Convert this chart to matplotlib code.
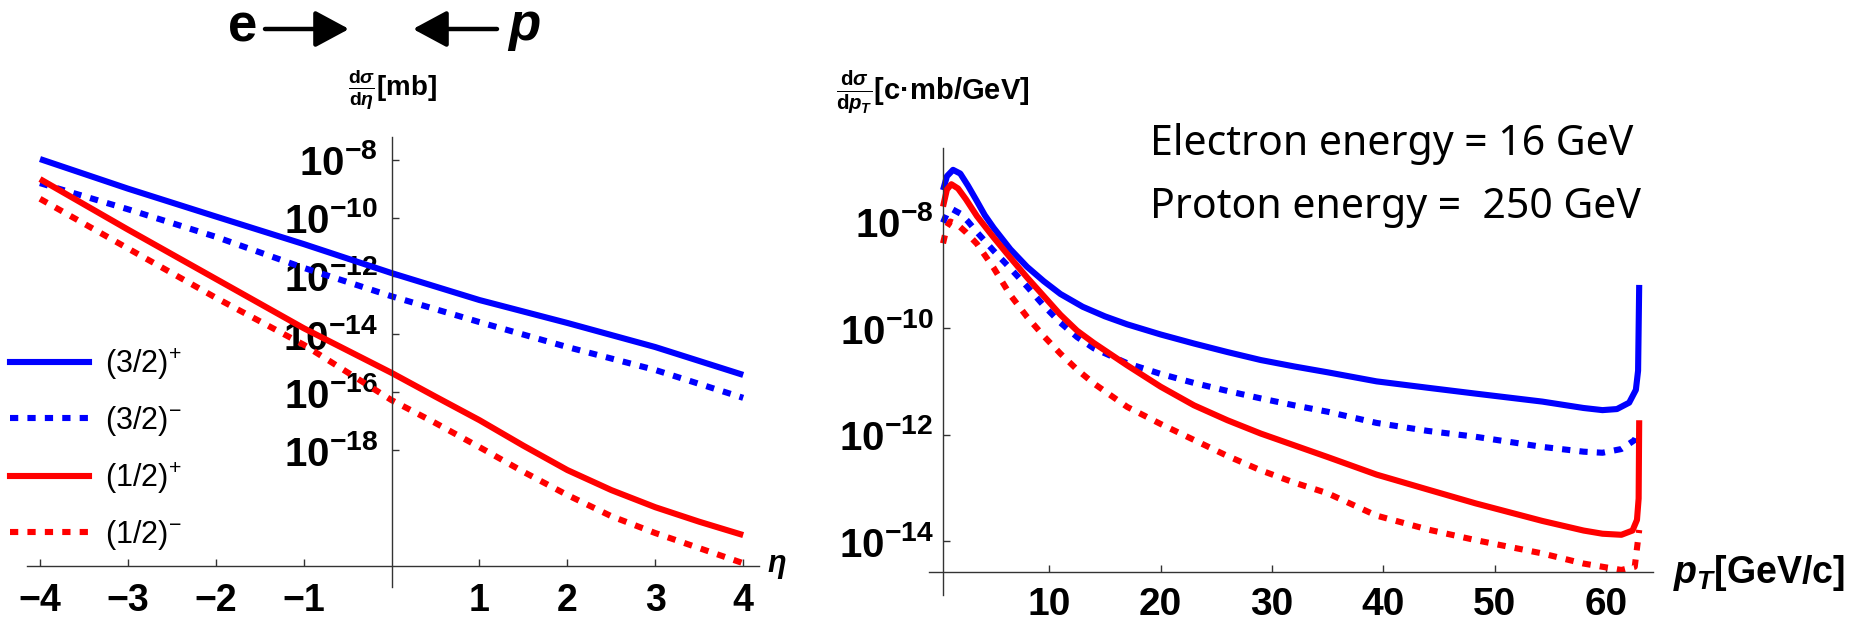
import numpy as np
import matplotlib
matplotlib.use("Agg")
import matplotlib.pyplot as plt
from matplotlib.lines import Line2D
from matplotlib.patches import FancyArrowPatch

plt.rcParams["font.family"] = ["Liberation Sans", "DejaVu Sans"]
plt.rcParams["mathtext.fontset"] = "custom"
plt.rcParams["mathtext.rm"] = "Liberation Sans"
plt.rcParams["mathtext.it"] = "Liberation Sans:italic:bold"
plt.rcParams["mathtext.bf"] = "Liberation Sans:bold"

# ---- left panel: d sigma / d eta (log10 values) ----
eta = [-4, -3, -2, -1, 0, 1, 2, 3, 4]
eta_32p = [-7.97, -8.99, -9.95, -10.9, -11.9, -12.83, -13.62, -14.45, -15.41]
eta_32m = [-8.8, -9.7, -10.65, -11.72, -12.7, -13.59, -14.45, -15.24, -16.2]
eta_red = [-4, -3, -2, -1, 0, 0.5, 1, 1.5, 2, 2.5, 3, 3.5, 4]
eta_12p = [-8.66, -10.4, -12.1, -13.8, -15.34, -16.16, -16.97, -17.85, -18.69,
           -19.38, -19.97, -20.47, -20.93]
eta_12m = [-9.34, -11.05, -12.75, -14.37, -16.28, -17.07, -17.9, -18.75, -19.55,
           -20.28, -20.86, -21.38, -21.9]

# ---- right panel: d sigma / d pT (log10 values) ----
pt_32p = [0.45, 0.8, 1.35, 2.0, 2.7, 3.5, 4.2, 5.0, 6.5, 8.0, 9.5, 11, 13, 15, 17,
          20, 23, 26, 29, 32, 35, 39.4, 44, 48.3, 54.3, 58, 59.7, 61.0, 62.1, 62.7,
          62.9, 63.0]
pt_32p_y = [-7.41, -7.15, -7.03, -7.1, -7.33, -7.62, -7.88, -8.12, -8.52, -8.85,
            -9.12, -9.36, -9.6, -9.78, -9.93, -10.12, -10.29, -10.45, -10.6, -10.72,
            -10.83, -11.0, -11.12, -11.23, -11.38, -11.5, -11.54, -11.52, -11.4,
            -11.16, -10.8, -9.19]
pt_32m = [0.45, 0.8, 1.3, 2.0, 2.7, 3.5, 5.0, 6.5, 8, 9.5, 11, 12.5, 14, 17, 20, 23,
          26, 29, 32, 35, 39.4, 44, 48.3, 54.3, 58, 59.7, 61.4, 62.6, 62.9]
pt_32m_y = [-8.02, -7.85, -7.77, -7.85, -8.0, -8.2, -8.55, -8.88, -9.22, -9.58,
            -9.9, -10.17, -10.38, -10.66, -10.86, -11.03, -11.18, -11.32, -11.45,
            -11.57, -11.78, -11.93, -12.04, -12.23, -12.32, -12.34, -12.27, -12.1,
            -11.95]
pt_12p = [0.45, 0.8, 1.2, 1.8, 2.5, 3.5, 5.0, 6.5, 8, 9.5, 11, 12.5, 14, 17, 20, 23,
          26, 29, 32, 35, 39.4, 44, 48.3, 54.3, 58, 59.7, 61.4, 62.4, 62.8, 62.95,
          63.0]
pt_12p_y = [-7.72, -7.4, -7.3, -7.38, -7.58, -7.9, -8.3, -8.68, -9.05, -9.4, -9.75,
            -10.05, -10.28, -10.7, -11.1, -11.45, -11.73, -11.98, -12.2, -12.42,
            -12.75, -13.03, -13.29, -13.62, -13.8, -13.86, -13.88, -13.8, -13.6,
            -13.2, -11.73]
pt_12m = [0.45, 0.8, 1.1, 1.7, 2.5, 3.5, 5.0, 6.5, 8, 9.5, 11, 12.5, 14, 17, 20, 23,
          26, 29, 32, 35, 39.4, 44, 48.3, 54.3, 58, 59.7, 61.4, 62.6, 63.0]
pt_12m_y = [-8.41, -8.1, -8.0, -8.05, -8.2, -8.42, -8.87, -9.38, -9.79, -10.15,
            -10.48, -10.78, -11.04, -11.48, -11.8, -12.1, -12.4, -12.67, -12.9,
            -13.1, -13.52, -13.78, -13.98, -14.23, -14.42, -14.48, -14.54, -14.48,
            -13.79]

labels = ["(3/2)$^{+}$", "(3/2)$^{-}$", "(1/2)$^{+}$", "(1/2)$^{-}$"]
colors = ["#0000ff", "#0000ff", "#ff0000", "#ff0000"]
dotted = (0, (1.35, 1.5))
styles = ["-", dotted, "-", dotted]

left_ticks = [-8, -10, -12, -14, -16, -18]
right_ticks = [-8, -10, -12, -14]
eta_ticks = [-4, -3, -2, -1, 1, 2, 3, 4]
pt_ticks = [10, 20, 30, 40, 50, 60]

W, H = 1856, 624
fig = plt.figure(figsize=(W / 100, H / 100), dpi=100)


def px(x0, y0, x1, y1):
    return [x0 / W, 1 - y1 / H, (x1 - x0) / W, (y1 - y0) / H]


def style_axes(ax, yaxis_at, xaxis_at):
    ax.set_yscale("log")
    for s in ["top", "right"]:
        ax.spines[s].set_visible(False)
    ax.spines["left"].set_position(("data", yaxis_at))
    ax.spines["bottom"].set_position(("data", xaxis_at))
    for s in ["left", "bottom"]:
        ax.spines[s].set_color("#333333")
        ax.spines[s].set_linewidth(1.0)
    ax.minorticks_off()
    ax.tick_params(direction="in", length=5, width=1, color="#333333")
    ax.patch.set_alpha(0)


lw = 4.4

# left axes
ax1 = fig.add_axes(px(27, 137, 759, 587))
for xs, ys, c, ls in zip([eta, eta, eta_red, eta_red],
                         [eta_32p, eta_32m, eta_12p, eta_12m], colors, styles):
    ax1.plot(xs, 10 ** np.array(ys), color=c, ls=ls, lw=lw,
             solid_capstyle="butt", dash_capstyle="butt")
ax1.set_xlim(-4.148, 4.18)
ax1.set_ylim(10 ** -22.72, 10 ** -7.21)
style_axes(ax1, 0, 10 ** -22.0)
ax1.set_yticks([10.0 ** t for t in left_ticks])
ax1.set_yticklabels([r"$\mathbf{10^{%d}}$" % t for t in left_ticks], fontsize=29)
ax1.set_xticks(eta_ticks)
ax1.set_xticklabels([str(t).replace("-", "\u2212") for t in eta_ticks],
                    fontsize=27, fontweight="bold")
ax1.tick_params(axis="y", pad=10)
ax1.tick_params(axis="x", pad=12)

handles = [Line2D([], [], color=c, ls=ls, lw=lw, dash_capstyle="butt")
           for c, ls in zip(colors, styles)]
fig.legend(handles, labels, loc="center left", bbox_to_anchor=(10 / W, 1 - 449 / H),
           frameon=False, fontsize=22, handlelength=2.6, handletextpad=0.5,
           labelspacing=0.72, borderpad=0, borderaxespad=0)

# right axes
ax2 = fig.add_axes(px(929, 148, 1653, 595))
for xs, ys, c, ls in zip([pt_32p, pt_32m, pt_12p, pt_12m],
                         [pt_32p_y, pt_32m_y, pt_12p_y, pt_12m_y], colors, styles):
    ax2.plot(xs, 10 ** np.array(ys), color=c, ls=ls, lw=lw,
             solid_capstyle="butt", dash_capstyle="butt")
ax2.set_xlim(-0.81, 64.24)
ax2.set_ylim(10 ** -15.01, 10 ** -6.62)
style_axes(ax2, 0.45, 10 ** -14.58)
ax2.set_yticks([10.0 ** t for t in right_ticks])
ax2.set_yticklabels([r"$\mathbf{10^{%d}}$" % t for t in right_ticks], fontsize=29)
ax2.set_xticks(pt_ticks)
ax2.set_xticklabels([str(t) for t in pt_ticks], fontsize=28, fontweight="bold")
ax2.tick_params(axis="y", pad=7)
ax2.tick_params(axis="x", pad=11)

# axis labels
fig.text(392 / W, 1 - 90 / H, r"$\frac{\mathbf{d}\sigma}{\mathbf{d}\eta}$[mb]",
         fontsize=20, fontweight="bold", ha="center", va="center")
fig.text(777 / W, 1 - 566 / H, r"$\eta$", fontsize=22, ha="center", va="center")
fig.text(836 / W, 1 - 92 / H, r"$\frac{\mathbf{d}\sigma}{\mathbf{d}p_{T}}$[c·mb/GeV]",
         fontsize=21, fontweight="bold", ha="left", va="center")
fig.text(1673 / W, 1 - 573 / H, r"$p_{T}$[GeV/c]", fontsize=27, fontweight="bold",
         ha="left", va="center")

# beam annotation
fig.text(243 / W, 1 - 28 / H, "e", fontsize=38, fontweight="bold",
         ha="center", va="center")
fig.text(524 / W, 1 - 26 / H, "p", fontsize=38, fontweight="bold", style="italic",
         ha="center", va="center")
arrow_kw = dict(transform=fig.transFigure, arrowstyle="-|>,head_length=1.3,head_width=0.7",
                lw=3.2, color="black", mutation_scale=16, shrinkA=0, shrinkB=0)
fig.add_artist(FancyArrowPatch((265 / W, 1 - 29 / H), (349 / W, 1 - 29 / H), **arrow_kw))
fig.add_artist(FancyArrowPatch((497 / W, 1 - 29 / H), (413 / W, 1 - 29 / H), **arrow_kw))

# energies
txt_kw = dict(fontsize=29.5, family=["Noto Sans", "DejaVu Sans"], ha="left",
              va="baseline")
fig.text(1150 / W, 1 - 155 / H, "Electron energy = 16 GeV", **txt_kw)
fig.text(1150 / W, 1 - 218 / H, "Proton energy =  250 GeV", **txt_kw)

fig.savefig("out.png", dpi=100)
